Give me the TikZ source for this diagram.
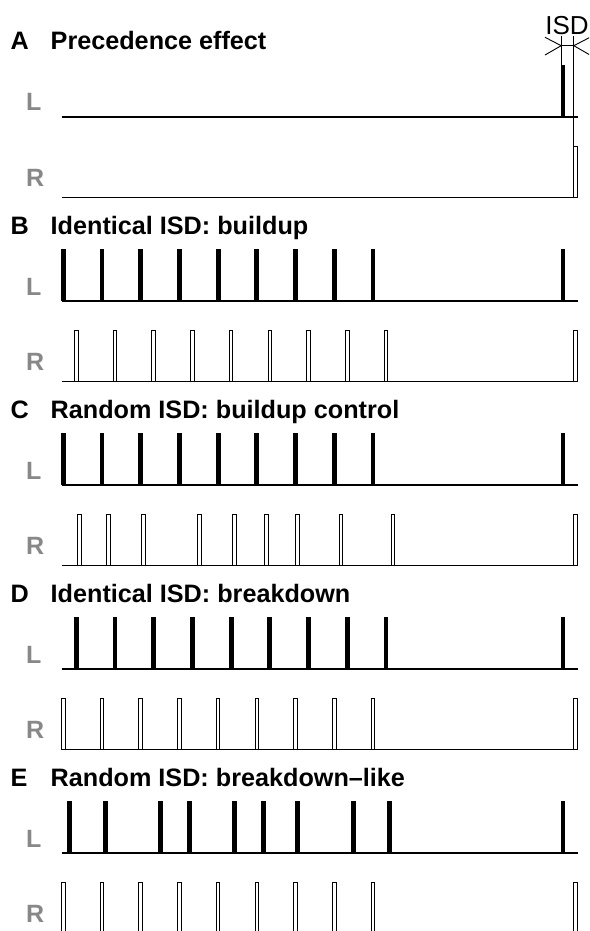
\documentclass[tikz,border=0pt]{standalone}
\usepackage{fontspec}
\setmainfont{Liberation Sans}
\definecolor{labgray}{RGB}{136,136,136}
\newcommand\drawpanel[5]{%
  \node[ptitle] (let#1) at (10.5,#3-67) {#1};
  \node[ptitle] (tit#1) at (50.5,#3-67) {#2};
  \node[chan] (chL#1) at (26,#3-6) {L};
  \node[chan] (chR#1) at (26,#3+80.7-11) {R};
  \foreach \xx in {#4} {\fill[sbar] (\xx-2.4,#3) rectangle (\xx+2.4,#3-51.7);}
  \foreach \xx in {#5} {\draw[hbar] (\xx-1.8,#3+80.7) rectangle (\xx+1.8,#3+80.7-51.2);}
  \draw[axisline] (61.5,#3) -- (577.7,#3);
  \draw[axisline] (61.5,#3+80.7) -- (577.7,#3+80.7);
}
\begin{document}
\begin{tikzpicture}[x=1pt,y=-1pt,
  ptitle/.style={font=\fontsize{25.2}{25.2}\selectfont\bfseries, anchor=base west, inner sep=0},
  chan/.style={font=\fontsize{25}{25}\selectfont\bfseries, text=labgray, anchor=base west, inner sep=0},
  axisline/.style={line width=1.2pt},
  sbar/.style={fill=black},
  hbar/.style={draw=black, fill=white, line width=0.9pt},
  thinline/.style={line width=0.9pt}]
\useasboundingbox (0,0) rectangle (589,931);
\clip (0,0) rectangle (589,931);
% A
\drawpanel{A}{Precedence effect}{117}{563}{575.5}
% B
\drawpanel{B}{Identical ISD: buildup}{301}{63.3,102,140.7,179.4,218.1,256.8,295.5,334.2,372.9,563}{76.3,115,153.7,192.4,231.1,269.8,308.5,347.2,385.9,575.5}
% C
\drawpanel{C}{Random ISD: buildup control}{485}{63.3,102,140.7,179.4,218.1,256.8,295.5,334.2,372.9,563}{79.7,108.3,143.5,199.2,234.2,266.5,297.4,341,392.9,575.5}
% D
\drawpanel{D}{Identical ISD: breakdown}{669}{76.3,115,153.7,192.4,231.1,269.8,308.5,347.2,385.9,563}{63.3,102,140.7,179.4,218.1,256.8,295.5,334.2,372.9,575.5}
% E
\drawpanel{E}{Random ISD: breakdown\textendash like}{853}{69.8,105.2,160.4,189.1,234.2,263.2,297.4,353.4,389.5,563}{63.3,102,140.7,179.4,218.1,256.8,295.5,334.2,372.9,575.5}
% ISD marker
\node[font=\fontsize{26}{26}\selectfont, anchor=base, inner sep=0] (isd) at (567,35) {ISD};
\coordinate (isdLtop) at (561.2,36);
\coordinate (isdLbot) at (561.2,65.3);
\coordinate (isdRtop) at (573.8,36);
\coordinate (isdRbot) at (573.8,146);
\coordinate (isdLmid) at (561.2,45.7);
\coordinate (isdRmid) at (573.8,45.7);
\draw[thinline] (isdLtop) -- (isdLbot);
\draw[thinline] (isdRtop) -- (isdRbot);
\draw[thinline] (isdLmid) -- (isdRmid);
\draw[thinline] (545,37.3) -- (isdLmid) -- (545,55);
\draw[thinline] (590,37.3) -- (isdRmid) -- (590,55);
\end{tikzpicture}
\end{document}
